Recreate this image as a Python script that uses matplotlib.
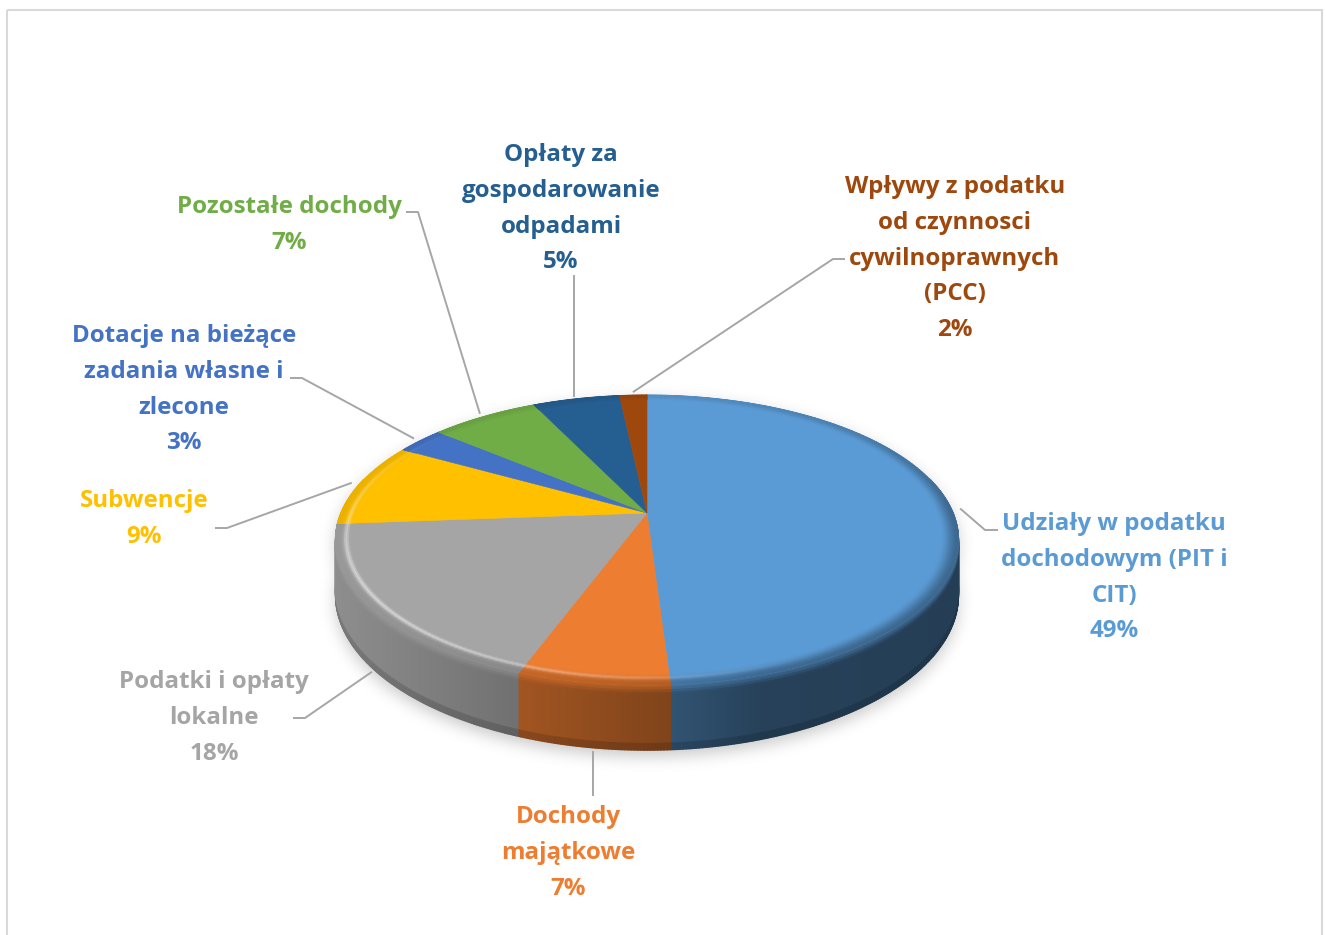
import numpy as np
import matplotlib
matplotlib.use('Agg')
import matplotlib.pyplot as plt
from matplotlib.collections import PolyCollection
from matplotlib.path import Path
from matplotlib.patches import Rectangle
from matplotlib.colors import to_rgb

# ---------------- data ----------------
categories = ['Udziały w podatku dochodowym (PIT i CIT)', 'Dochody majątkowe',
              'Podatki i opłaty lokalne', 'Subwencje',
              'Dotacje na bieżące zadania własne i zlecone', 'Pozostałe dochody',
              'Opłaty za gospodarowanie odpadami',
              'Wpływy z podatku od czynnosci cywilnoprawnych (PCC)']
values = [49.0, 6.6, 18.2, 9.4, 3.0, 6.7, 5.4, 1.7]
label_lines = [
    ['Udziały w podatku', 'dochodowym (PIT i', 'CIT)'],
    ['Dochody', 'majątkowe'],
    ['Podatki i opłaty', 'lokalne'],
    ['Subwencje'],
    ['Dotacje na bieżące', 'zadania własne i', 'zlecone'],
    ['Pozostałe dochody'],
    ['Opłaty za', 'gospodarowanie', 'odpadami'],
    ['Wpływy z podatku', 'od czynnosci', 'cywilnoprawnych', '(PCC)'],
]
colors = ['#5B9BD5', '#ED7D31', '#A5A5A5', '#FFC000',
          '#4472C4', '#70AD47', '#255E91', '#9E480E']

# ---------------- layout (pixels) ----------------
W, Hpx = 1326, 935
CX, CY, AX, BY, P, HW = 647.0, 513.0, 306.0, 140.0, 0.186, 53.0
label_pos = [(1114, 530), (568, 823), (214, 688), (144, 507),
             (184, 342), (289, 213), (561, 161), (955, 193)]
# leader: ('h', x_text_side, elbow_x, y) or ('v', y_end)
leaders = [('h', 998, 985, 530), ('v', 795), ('h', 293, 305, 718),
           ('h', 215, 227, 528), ('h', 290, 302, 378), ('h', 406, 418, 212),
           ('v', 276), ('h', 845, 833, 259)]
LINE_GAP = 35.8
FONT = ['Open Sans', 'DejaVu Sans']
FS = 17.4


def proj(u, v, z=0.0):
    w = 1 + P * v
    return CX + AX * u / w, CY - BY * v / w + z * HW / w


def wall_factor(x):
    return np.interp(x, [335, 520, 670, 760, 960], [0.86, 0.68, 0.54, 0.42, 0.40])


def lerp(a, b, t):
    return a + (b - a) * t


fig = plt.figure(figsize=(W / 100, Hpx / 100), dpi=100)
ax = fig.add_axes([0, 0, 1, 1])
ax.set_xlim(0, W)
ax.set_ylim(Hpx, 0)
ax.axis('off')

fr = np.array(values) / sum(values)
ends = np.cumsum(fr) * 360
starts = ends - fr * 360

# ---------------- shadow ----------------
gx0, gx1, gy0, gy1 = 250, 1060, 340, 840
xs = np.arange(gx0, gx1) + 0.5
ys = np.arange(gy0, gy1) + 0.5
XX, YY = np.meshgrid(xs, ys)
pts = np.column_stack([XX.ravel(), YY.ravel()])
th = np.linspace(0, 2 * np.pi, 400)
tx, ty = proj(np.sin(th), np.cos(th), 0)
bx, byy = proj(np.sin(th), np.cos(th), 1)
mask = Path(np.column_stack([tx, ty])).contains_points(pts) | \
    Path(np.column_stack([bx, byy])).contains_points(pts)
mask = mask.reshape(XX.shape).astype(float)
mask = np.roll(mask, 6, axis=0)
sig = 8.0
kk = np.arange(-25, 26)
ker = np.exp(-kk ** 2 / (2 * sig ** 2))
ker /= ker.sum()
b1 = np.zeros_like(mask)
for i, k in enumerate(kk):
    b1 += ker[i] * np.roll(mask, k, axis=1)
b2 = np.zeros_like(mask)
for i, k in enumerate(kk):
    b2 += ker[i] * np.roll(b1, k, axis=0)
rgba = np.zeros(mask.shape + (4,))
rgba[..., 3] = 0.22 * b2
ax.imshow(rgba, extent=(gx0, gx1, gy1, gy0), interpolation='bilinear', zorder=1)
ax.set_aspect('auto')
ax.set_xlim(0, W)
ax.set_ylim(Hpx, 0)

# ---------------- side walls ----------------
zl = [0, 0.04, 0.08, 0.12, 0.16, 0.9, 1.0]
wall_quads, wall_cols, wall_keys = [], [], []
for i in range(len(values)):
    base = np.array(to_rgb(colors[i]))
    tt = np.arange(starts[i], ends[i], 0.5)
    tt = np.append(tt, ends[i])
    for a1, a2 in zip(tt[:-1], tt[1:]):
        r1, r2 = np.radians(a1), np.radians(a2)
        vm = np.cos((r1 + r2) / 2)
        if vm > 0.25:
            continue
        u1, v1, u2, v2 = np.sin(r1), np.cos(r1), np.sin(r2), np.cos(r2)
        xm = proj((u1 + u2) / 2, (v1 + v2) / 2)[0]
        wc = base * wall_factor(xm)
        rim = lerp(base, wc, 0.55)
        for z0, z1 in zip(zl[:-1], zl[1:]):
            zm = (z0 + z1) / 2
            if zm < 0.16:
                s = zm / 0.16
                c = lerp(rim, wc, s * s * (3 - 2 * s))
            elif zm < 0.9:
                c = wc
            else:
                c = wc * 0.85
            p1 = proj(u1, v1, z0)
            p2 = proj(u2, v2, z0)
            p3 = proj(u2, v2, z1)
            p4 = proj(u1, v1, z1)
            wall_quads.append([p1, p2, p3, p4])
            wall_cols.append(np.clip(c, 0, 1))
            wall_keys.append(-vm)
order = np.argsort(wall_keys, kind='stable')
wall_quads = [wall_quads[j] for j in order]
wall_cols = [wall_cols[j] for j in order]
ax.add_collection(PolyCollection(wall_quads, facecolors=wall_cols,
                                 edgecolors=wall_cols, linewidths=1.0, zorder=2))

# ---------------- top faces ----------------
for i in range(len(values)):
    tt = np.radians(np.linspace(starts[i], ends[i], 200))
    px, py = proj(np.sin(tt), np.cos(tt))
    poly = [proj(0, 0)] + list(zip(px, py))
    ax.add_patch(plt.Polygon(poly, closed=True, fc=colors[i], ec=colors[i],
                             lw=0.4, zorder=3))

# bevel rings on top face
R0 = 0.945
rr = np.linspace(R0, 1.0, 12)
bq, bc = [], []
L = np.array([-0.8, -0.6])
for i in range(len(values)):
    base = np.array(to_rgb(colors[i]))
    tt = np.arange(starts[i], ends[i], 1.0)
    tt = np.append(tt, ends[i])
    for a1, a2 in zip(tt[:-1], tt[1:]):
        r1, r2 = np.radians(a1), np.radians(a2)
        u1, v1, u2, v2 = np.sin(r1), np.cos(r1), np.sin(r2), np.cos(r2)
        um, vm = np.sin((r1 + r2) / 2), np.cos((r1 + r2) / 2)
        xm = proj(um, vm)[0]
        wc = base * wall_factor(xm)
        a = 1.0 if vm <= 0 else 1 - 0.65 * vm
        rim = lerp(base, wc, 0.55 * a)
        dot = max(0.0, L[0] * um + L[1] * vm)
        hk = 0.55 * dot ** 2
        for q0, q1 in zip(rr[:-1], rr[1:]):
            t = ((q0 + q1) / 2 - R0) / (1 - R0)
            s = t * t * (3 - 2 * t)
            c = lerp(base, rim, s)
            hl = hk * np.exp(-((t - 0.42) / 0.14) ** 2)
            c = lerp(c, np.ones(3), hl)
            quad = [proj(u1 * q0, v1 * q0), proj(u2 * q0, v2 * q0),
                    proj(u2 * q1, v2 * q1), proj(u1 * q1, v1 * q1)]
            bq.append(quad)
            bc.append(np.clip(c, 0, 1))
ax.add_collection(PolyCollection(bq, facecolors=bc, edgecolors=bc,
                                 linewidths=0.6, zorder=4))

# ---------------- labels & leaders ----------------
lead_col = '#A6A6A6'
for i in range(len(values)):
    mid = np.radians((starts[i] + ends[i]) / 2)
    um, vm = np.sin(mid), np.cos(mid)
    if vm < -0.3:
        axp, ayp = proj(um, vm, 1.0)
        ayp += 4
    else:
        axp, ayp = proj(um * 1.03, vm * 1.03)
    ld = leaders[i]
    if ld[0] == 'h':
        _, xt, xe, yl = ld
        ax.plot([axp, xe, xt], [ayp, yl, yl], color=lead_col, lw=1.4,
                zorder=5, solid_capstyle='butt')
    else:
        ax.plot([axp, axp], [ayp, ld[1]], color=lead_col, lw=1.4, zorder=5)

    cx, y0 = label_pos[i]
    lines = label_lines[i] + [f"{round(values[i]):.0f}%"]
    for j, s in enumerate(lines):
        ax.text(cx, y0 + j * LINE_GAP, s, ha='center', va='baseline',
                fontsize=FS, fontweight='bold', color=colors[i],
                family=FONT, zorder=6)

ax.add_patch(Rectangle((6.5, 9.5), 1315.5, 940, fill=False, ec='#D9D9D9',
                       lw=1.5, zorder=7))

fig.savefig('out.png', dpi=100)
